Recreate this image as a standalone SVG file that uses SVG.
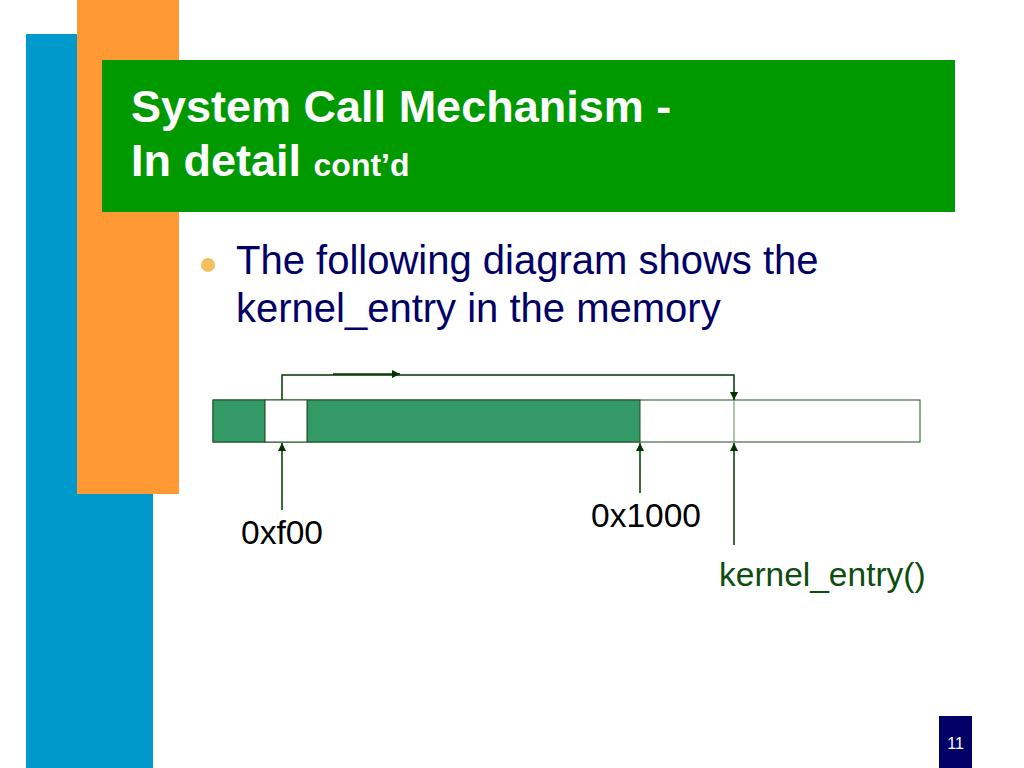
<svg xmlns="http://www.w3.org/2000/svg" width="1024" height="768" viewBox="0 0 1024 768">
<defs>
<style>
.lbl{font-family:"Liberation Sans",Arial,sans-serif;}
.ln{stroke:#003300;stroke-width:1.5;fill:none;}
.title{font-family:"Liberation Sans",Arial,sans-serif;font-weight:bold;fill:#ffffff;}
</style>
<marker id="ah" viewBox="0 0 10 10" refX="10" refY="5" markerWidth="8" markerHeight="8" markerUnits="userSpaceOnUse" orient="auto">
<path d="M0,0 L10,5 L0,10 z" fill="#003300"/>
</marker>
</defs>
<rect width="1024" height="768" fill="#ffffff"/>
<g id="background">
<rect x="26" y="34" width="127" height="734" fill="#0099cc"/>
<rect x="77" y="0" width="102" height="494" fill="#ff9933"/>
<rect x="102" y="60" width="853" height="152" fill="#009900"/>
<text class="title" x="131" y="122" font-size="45">System Call Mechanism -</text>
<text class="title" x="131" y="176" font-size="45">In detail <tspan font-size="32">cont’d</tspan></text>
</g>
<g id="bullet">
<circle cx="208" cy="265" r="7" fill="#f5c060"/>
<text class="lbl" x="236" y="274" font-size="40" fill="#000066">The following diagram shows the</text>
<text class="lbl" x="236" y="322" font-size="40" fill="#000066">kernel_entry in the memory</text>
</g>
<g id="memory">
<rect x="213" y="400" width="707" height="42" fill="#ffffff" stroke="#1f4f1f" stroke-width="1"/>
<rect x="213" y="400" width="52" height="42" fill="#339966" stroke="#1f4f1f" stroke-width="1"/>
<rect x="307" y="400" width="333" height="42" fill="#339966" stroke="#1f4f1f" stroke-width="1"/>
<rect x="265" y="400" width="42" height="42" fill="#ffffff" stroke="#1f4f1f" stroke-width="1"/>
<line x1="734" y1="400" x2="734" y2="442" stroke="#5a8a5a" stroke-width="1"/>
</g>
<g id="connectors">
<path class="ln" d="M282,400 V375 H734 V400" marker-end="url(#ah)"/>
<line class="ln" x1="333" y1="374" x2="400" y2="374" marker-end="url(#ah)"/>
<line class="ln" x1="282" y1="510" x2="282" y2="443" marker-end="url(#ah)"/>
<line class="ln" x1="640" y1="493" x2="640" y2="443" marker-end="url(#ah)"/>
<line class="ln" x1="734" y1="545" x2="734" y2="443" marker-end="url(#ah)"/>
</g>
<g id="labels">
<text class="lbl" x="241" y="544" font-size="33.5" fill="#000000">0xf00</text>
<text class="lbl" x="591" y="527" font-size="33.5" fill="#000000">0x1000</text>
<text class="lbl" x="719" y="586" font-size="33.5" fill="#0d4d0d">kernel_entry()</text>
</g>
<g id="page">
<rect x="939" y="716" width="33" height="52" fill="#000066"/>
<text class="lbl" x="955.5" y="749" font-size="16" fill="#ffffff" text-anchor="middle">11</text>
</g>
</svg>
